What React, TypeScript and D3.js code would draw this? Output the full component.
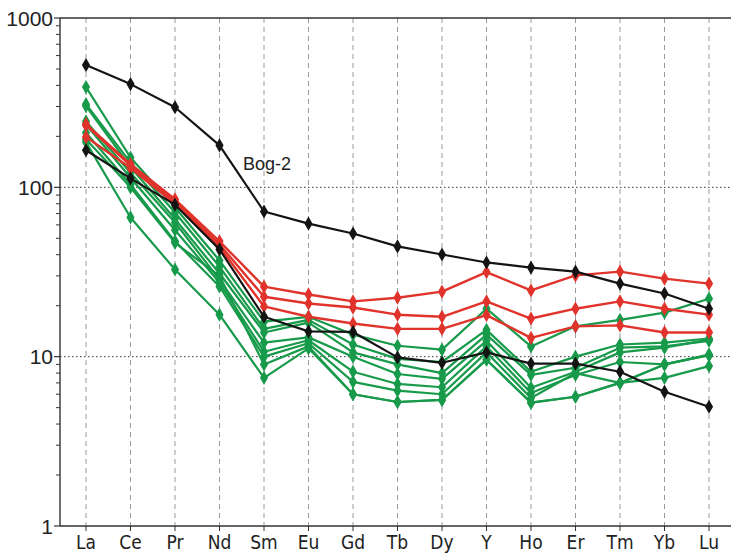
import React, { useEffect, useRef } from "react";
import * as d3 from "d3";

const elements = ["La", "Ce", "Pr", "Nd", "Sm", "Eu", "Gd", "Tb", "Dy", "Y", "Ho", "Er", "Tm", "Yb", "Lu"];
const yTicks = [1, 10, 100, 1000];

const greenSamples = [
  [391, 150, 76, 37, 16.1, 17.2, 13.5, 11.6, 11.0, 19.2, 11.5, 15.1, 16.5, 18.2, 22.0],
  [310, 140, 71, 34, 14.6, 16.5, 11.8, 9.7, 9.3, 14.4, 8.15, 10.0, 11.8, 12.1, 12.8],
  [302, 132, 65, 31, 13.9, 15.9, 10.6, 9.0, 8.0, 13.5, 7.8, 8.6, 11.3, 11.5, 12.4],
  [245, 122, 62, 28.5, 12.1, 13.0, 10.0, 7.9, 7.4, 12.4, 6.55, 8.15, 10.6, 11.3, 12.6],
  [235, 114, 56, 27.4, 10.7, 12.5, 8.15, 6.9, 6.6, 11.5, 6.1, 7.8, 9.3, 9.0, 10.3],
  [210, 104, 48, 26, 10.0, 12.0, 7.1, 6.3, 6.0, 10.6, 5.7, 8.0, 7.0, 7.5, 8.8],
  [192, 100, 47, 30, 9.0, 11.5, 6.0, 5.4, 5.55, 9.6, 5.35, 5.8, 7.0, 9.0, 10.2],
  [185, 66.4, 32.7, 17.7, 7.5, 11.2, 6.0, 5.4, 5.55, 9.6, 5.35, 5.8, 7.0, 9.0, 10.2],
];

const redSamples = [
  [236, 137, 85, 48, 25.9, 23.3, 21.2, 22.3, 24.2, 31.6, 24.6, 30.2, 31.8, 28.9, 27.0],
  [232, 135, 83, 46, 22.6, 20.6, 19.5, 17.7, 17.2, 21.2, 16.8, 19.2, 21.2, 19.2, 17.7],
  [198, 130, 80, 44.5, 19.8, 17.2, 15.7, 14.6, 14.6, 17.6, 12.9, 15.1, 15.3, 13.9, 13.9],
];

const bog2 = [527, 407, 297, 177, 72, 61, 53.4, 44.8, 40.1, 36, 33.6, 31.8, 27, 23.6, 19.2];
const blackLow = [165.6, 113, 79, 43, 17.2, 14.1, 14, 9.9, 9.2, 10.6, 9.1, 9.1, 8.15, 6.2, 5.06];

const GREEN = "#179a4a";
const RED = "#e0332b";
const BLACK = "#141414";

const W = 731;
const H = 555;

export default function App() {
  const ref = useRef<SVGSVGElement>(null);

  useEffect(() => {
    const svg = d3.select(ref.current);
    svg.selectAll("*").remove();

    const x = d3.scalePoint<string>().domain(elements).range([86, 709]);
    const y = d3.scaleLog().domain([1, 1000]).range([526, 18]);
    const left = 60;
    const right = 731;

    // vertical dashed guides at each element
    svg.append("g")
      .selectAll("line")
      .data(elements)
      .join("line")
      .attr("x1", (d) => x(d)!)
      .attr("x2", (d) => x(d)!)
      .attr("y1", y(1000))
      .attr("y2", y(1))
      .attr("stroke", "#9a9a9a")
      .attr("stroke-width", 1)
      .attr("stroke-dasharray", "5,4");

    // dotted horizontals at 10 and 100
    svg.append("g")
      .selectAll("line")
      .data([10, 100])
      .join("line")
      .attr("x1", left)
      .attr("x2", right)
      .attr("y1", (d) => y(d))
      .attr("y2", (d) => y(d))
      .attr("stroke", "#333")
      .attr("stroke-width", 1)
      .attr("stroke-dasharray", "1.5,2.5");

    // frame: left, top, bottom
    svg.append("line").attr("x1", left).attr("x2", left).attr("y1", y(1000)).attr("y2", y(1)).attr("stroke", "#333").attr("stroke-width", 1.4);
    svg.append("line").attr("x1", left).attr("x2", right).attr("y1", y(1000)).attr("y2", y(1000)).attr("stroke", "#333").attr("stroke-width", 1.4);
    svg.append("line").attr("x1", left).attr("x2", right).attr("y1", y(1)).attr("y2", y(1)).attr("stroke", "#333").attr("stroke-width", 1.4);

    // y ticks: majors and minors
    const minor: number[] = [];
    for (const dec of [1, 10, 100]) for (let k = 2; k <= 9; k++) minor.push(dec * k);
    svg.append("g")
      .selectAll("line")
      .data(minor)
      .join("line")
      .attr("x1", left - 4)
      .attr("x2", left)
      .attr("y1", (d) => y(d))
      .attr("y2", (d) => y(d))
      .attr("stroke", "#333")
      .attr("stroke-width", 1);
    svg.append("g")
      .selectAll("line")
      .data(yTicks)
      .join("line")
      .attr("x1", left - 6)
      .attr("x2", left)
      .attr("y1", (d) => y(d))
      .attr("y2", (d) => y(d))
      .attr("stroke", "#333")
      .attr("stroke-width", 1.2);
    svg.append("g")
      .selectAll("text")
      .data(yTicks)
      .join("text")
      .attr("x", left - 7)
      .attr("y", (d) => y(d))
      .attr("dy", "0.36em")
      .attr("text-anchor", "end")
      .attr("font-family", "Liberation Sans, Arial, sans-serif")
      .attr("font-size", 21)
      .attr("fill", "#222")
      .text((d) => String(d));

    // x ticks and labels
    svg.append("g")
      .selectAll("line")
      .data(elements)
      .join("line")
      .attr("x1", (d) => x(d)!)
      .attr("x2", (d) => x(d)!)
      .attr("y1", y(1))
      .attr("y2", y(1) + 5)
      .attr("stroke", "#333")
      .attr("stroke-width", 1);
    svg.append("g")
      .selectAll("text")
      .data(elements)
      .join("text")
      .attr("x", (d) => x(d)!)
      .attr("y", 549)
      .attr("text-anchor", "middle")
      .attr("font-family", "DejaVu Sans Condensed, Liberation Sans Narrow, Arial Narrow, sans-serif")
      .attr("font-stretch", "condensed")
      .attr("font-size", 19)
      .attr("fill", "#222")
      .text((d) => d);

    const line = d3
      .line<number>()
      .x((_, i) => x(elements[i])!)
      .y((v) => y(v));
    const diamond = d3.symbol().type(d3.symbolDiamond).size(58);

    const drawSeries = (vals: number[], color: string, width: number) => {
      const g = svg.append("g");
      g.append("path")
        .attr("d", line(vals))
        .attr("fill", "none")
        .attr("stroke", color)
        .attr("stroke-width", width)
        .attr("stroke-linejoin", "round");
      g.selectAll("path.m")
        .data(vals)
        .join("path")
        .attr("class", "m")
        .attr("d", diamond()!)
        .attr("transform", (v, i) => `translate(${x(elements[i])},${y(v)})`)
        .attr("fill", color);
    };

    greenSamples.forEach((s) => drawSeries(s, GREEN, 2.2));
    redSamples.forEach((s) => drawSeries(s, RED, 2.4));
    drawSeries(blackLow, BLACK, 2.2);
    drawSeries(bog2, BLACK, 2.2);

    svg.append("text")
      .attr("x", 243)
      .attr("y", 170)
      .attr("font-family", "Liberation Sans, Arial, sans-serif")
      .attr("font-size", 18)
      .attr("fill", "#222")
      .text("Bog-2");
  }, []);

  return (
    <div style={{ position: "fixed", left: 0, top: 0, width: W, height: H, background: "#fff" }}>
      <svg ref={ref} width={W} height={H} style={{ display: "block" }} />
    </div>
  );
}
